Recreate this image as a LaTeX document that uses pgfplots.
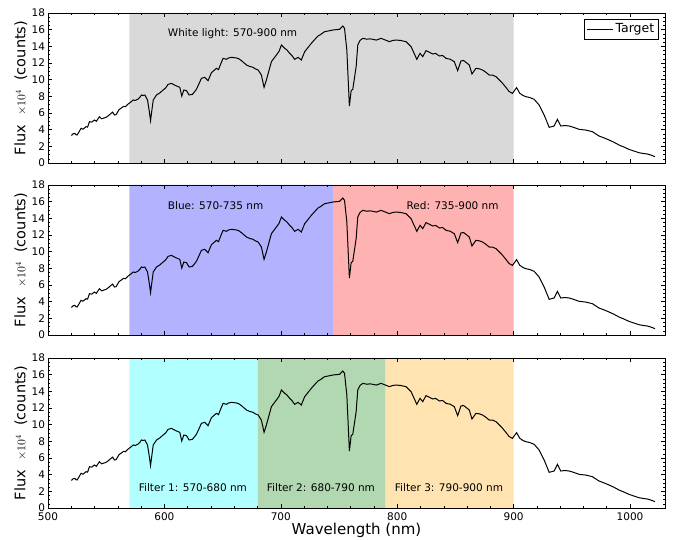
\documentclass[border=0pt]{standalone}
\usepackage{fontspec}
\setmainfont{DejaVu Sans}
\usepackage{pgfplots}
\usepackage{pgfplotstable}
\pgfplotsset{compat=1.18}

\definecolor{bgray}{RGB}{217,217,217}
\definecolor{bblue}{RGB}{178,178,255}
\definecolor{bred}{RGB}{255,178,178}
\definecolor{bcyan}{RGB}{178,255,255}
\definecolor{bgreen}{RGB}{178,216,178}
\definecolor{borange}{RGB}{255,228,178}

\pgfplotstableread{
x y
520 3.3
521.5 3.5
523 3.56
524 3.4
525 3.36
526.5 3.7
528.4 4.16
530 4.05
532.7 4.36
534 4.3
535.6 4.96
537.5 4.9
539.9 5.16
541.5 5.0
544.2 5.56
546 5.3
549.9 5.48
552 5.7
554.2 5.96
555.5 6.1
557.1 5.76
558.5 5.8
561 6.4
563 6.6
565 6.8
566.5 6.75
568.9 7.08
571 7.3
573.2 7.56
575 7.5
577.5 7.68
579 7.9
580.3 8.16
581.5 8.1
583.2 8.16
585.5 7.56
587 6.2
588.1 5.08
589.2 6.3
590.4 7.56
593.2 8.16
596 8.4
598.9 8.76
601 9.0
603.2 9.44
606.1 9.56
608 9.4
610.4 9.24
613.2 9.08
614.9 8.04
616.7 8.76
619 8.68
621.2 8.16
624.1 8.24
627.5 8.84
631.8 10.16
634.7 10.28
637.5 9.88
640.4 10.84
642.5 11.1
644.7 11.36
646.5 11.2
648 11.76
650.4 12.56
653.3 12.44
655 12.6
657.6 12.68
661.9 12.6
664 12.5
666.2 12.28
670.5 11.76
673 11.6
676.2 11.48
678 11.3
680.5 11.16
683.3 10.56
685.6 9.08
687.6 9.96
691.9 12.16
696.2 12.96
698.5 13.4
700.5 14.16
703.3 13.76
705 13.6
707.6 13.16
709.5 12.9
711.9 12.44
714.8 12.68
717.6 12.36
720.5 13.36
723 13.8
726.2 14.36
729 14.8
731.9 15.24
734 15.4
737.6 15.76
741 15.85
744.8 15.96
747.5 16.0
750.5 16.04
753.2 16.44
754.7 16.16
756.7 13.56
758.9 6.84
760.4 8.68
761.8 8.84
764.7 11.56
766.1 14.16
768 14.7
770.4 14.96
774 14.85
776.5 14.9
779 14.84
782 14.75
786.1 14.96
789 14.8
793.3 14.56
796 14.7
799 14.76
803 14.7
807.6 14.56
811.9 13.96
816.8 12.44
819.6 13.16
821.9 12.76
824.7 13.48
827.5 13.3
830.4 13.08
833 13.15
836.2 12.84
839 12.9
841.9 12.56
845.5 12.45
849 12.16
851.9 11.08
854.7 12.24
857 12.3
859 12.08
861.9 11.76
864.2 10.68
867.6 11.36
870.5 11.3
873.3 11.16
876 10.9
879 10.56
882 10.55
884.8 10.36
887.5 10.0
890.5 9.56
893.5 9.05
896.2 8.56
899 8.36
902.5 9.04
905.3 8.36
908 8.1
910.5 7.96
914 7.85
917.6 7.64
921.9 6.96
926.2 5.76
930.5 4.28
934.8 4.44
937.6 5.24
940.5 4.44
944 4.5
947.6 4.44
951 4.3
956.2 4.04
962 3.95
967.6 3.76
973.3 3.24
977 3.05
981.9 2.76
986 2.5
990.5 2.16
995 1.9
999 1.64
1003 1.45
1007.6 1.24
1011 1.15
1014.8 1.08
1018 0.95
1021.4 0.76
}\spec

\tikzset{note/.style={anchor=west, font=\fontsize{10.5}{12}\selectfont}}

\pgfplotsset{
  panel/.style={
    anchor=south west, scale only axis,
    width=617pt, height=150pt,
    xmin=500, xmax=1030, ymin=0, ymax=18,
    xtick={500,600,...,1000}, ytick={0,2,...,18},
    minor x tick num=4, minor y tick num=3,
    tick align=inside,
    major tick length=4pt, minor tick length=2pt,
    tick style={black, line width=0.6pt},
    axis line style={black, line width=0.8pt},
    tick label style={font=\fontsize{10.5}{12}\selectfont, inner sep=0.8pt},
    xticklabel style={/pgf/number format/1000 sep={}, yshift=-4pt},
    yticklabel style={xshift=-2pt},
    /pgf/number format/assume math mode=true,
    ylabel={Flux~~{\fontsize{12}{13}\selectfont$\times10^4$}~~(counts)},
    every axis y label/.style={at={(axis description cs:-0.044,0.5)}, rotate=90, anchor=center, font=\fontsize{14.5}{16}\selectfont},
    every axis x label/.style={at={(axis description cs:0.5,-0.15)}, anchor=center, inner sep=0pt, font=\fontsize{15}{17}\selectfont},
    axis on top,
  },
  band/.style={draw=none, fill=#1, forget plot},
  spec/.style={black, line width=1pt},
}

\begin{document}
\begin{tikzpicture}
\path[use as bounding box] (0,0) rectangle (673pt,539pt);

% top panel
\begin{axis}[panel, at={(48pt,376pt)}, xticklabels={},
  legend style={at={(1,1)}, anchor=north east, xshift=-6pt, yshift=-6pt, draw=black, line width=0.6pt, font=\fontsize{12.5}{14}\selectfont, inner sep=2.5pt},
  legend cell align=left,
  legend image code/.code={\draw[black, line width=0.8pt] (0pt,0pt) -- (26pt,0pt);}]
\addplot[band=bgray] coordinates {(570,0) (570,18) (900,18) (900,0)} \closedcycle;
\addplot[spec] table[x=x,y=y] {\spec};
\addlegendentry{Target}
\node[note] at (axis cs:600,15.5) {White light: 570-900 nm};
\end{axis}

% middle panel
\begin{axis}[panel, at={(48pt,204pt)}, xticklabels={}]
\addplot[band=bblue] coordinates {(570,0) (570,18) (745,18) (745,0)} \closedcycle;
\addplot[band=bred] coordinates {(745,0) (745,18) (900,18) (900,0)} \closedcycle;
\addplot[spec] table[x=x,y=y] {\spec};
\node[note] at (axis cs:600,15.5) {Blue: 570-735 nm};
\node[note] at (axis cs:805,15.5) {Red: 735-900 nm};
\end{axis}

% bottom panel
\begin{axis}[panel, at={(48pt,31pt)}, xlabel={Wavelength (nm)}]
\addplot[band=bcyan] coordinates {(570,0) (570,18) (680,18) (680,0)} \closedcycle;
\addplot[band=bgreen] coordinates {(680,0) (680,18) (790,18) (790,0)} \closedcycle;
\addplot[band=borange] coordinates {(790,0) (790,18) (900,18) (900,0)} \closedcycle;
\addplot[spec] table[x=x,y=y] {\spec};
\node[note] at (axis cs:575,2.4) {Filter 1: 570-680 nm};
\node[note] at (axis cs:685,2.4) {Filter 2: 680-790 nm};
\node[note] at (axis cs:795,2.4) {Filter 3: 790-900 nm};
\end{axis}
\end{tikzpicture}
\end{document}
